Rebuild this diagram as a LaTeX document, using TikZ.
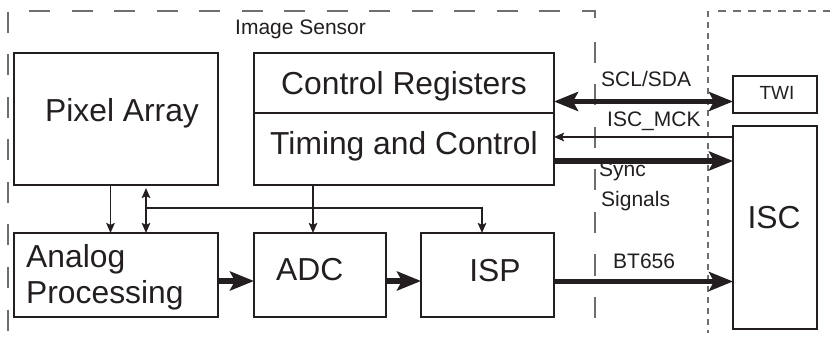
\documentclass[tikz,border=0pt]{standalone}
\usepackage{fontspec}
\setmainfont{Liberation Sans}
\usetikzlibrary{arrows.meta}
\definecolor{ink}{HTML}{231F20}
\definecolor{dashgray}{HTML}{6D6E71}
\begin{document}
\begin{tikzpicture}[x=1pt,y=-1pt,
  box/.style={draw=ink, line width=2.2pt, anchor=north west, inner sep=0pt, outer sep=0pt},
  bigtxt/.style={font=\fontsize{31.8}{36}\selectfont, text=ink, inner sep=0pt, anchor=base west},
  lbl/.style={font=\fontsize{21}{25}\selectfont, text=ink, inner sep=0pt, anchor=base west},
  fatarrow/.style={draw=ink, line width=5.5pt, -{Stealth[length=24pt,width=19pt,inset=5pt]}},
  fatboth/.style={draw=ink, line width=5.5pt, {Stealth[length=24pt,width=19pt,inset=5pt]}-{Stealth[length=24pt,width=19pt,inset=5pt]}},
  thinarrow/.style={draw=ink, line width=1.9pt, -{Stealth[length=10pt,width=8.5pt,inset=2pt]}},
  thinboth/.style={draw=ink, line width=1.9pt, {Stealth[length=10pt,width=8.5pt,inset=2pt]}-{Stealth[length=10pt,width=8.5pt,inset=2pt]}},
  sensordash/.style={draw=dashgray, line width=1.4pt, dash pattern=on 21pt off 21.5pt},
  iscdashh/.style={draw=dashgray, line width=1.4pt, dash pattern=on 8pt off 7pt},
  iscdashv/.style={draw=dashgray, line width=1.4pt, dash pattern=on 6pt off 5pt}]
\useasboundingbox (0,0) rectangle (830,339);

% frames
\draw[sensordash] (8,12) -- (8,331);
\draw[sensordash] (29,11) -- (595,11) -- (595,21);
\draw[sensordash] (595,42) -- (595,318);
\draw[iscdashh] (718,11) -- (830,11);
\draw[iscdashv] (708,11) -- (708,333);

% boxes
\node[box, minimum width=204pt, minimum height=132pt] (pa) at (14,53) {};
\node[box, minimum width=300pt, minimum height=60pt] (cr) at (254,53) {};
\node[box, minimum width=300pt, minimum height=72pt] (tc) at (254,113) {};
\node[box, minimum width=204pt, minimum height=84pt] (ap) at (14,233) {};
\node[box, minimum width=132pt, minimum height=84pt] (adc) at (254,233) {};
\node[box, minimum width=133pt, minimum height=84pt] (isp) at (421,233) {};
\node[box, minimum width=84pt, minimum height=37pt] (twi) at (733,76) {};
\node[box, minimum width=84pt, minimum height=203pt] (isc) at (733,126) {};

% texts
\node[lbl] (tsensor) at (235,34.3) {Image Sensor};
\node[bigtxt] (tpa) at (45,122) {Pixel Array};
\node[bigtxt] (tcr) at (281,95) {Control Registers};
\node[bigtxt] (ttc) at (270,155) {Timing and Control};
\node[bigtxt] (tap1) at (26,267) {Analog};
\node[bigtxt] (tap2) at (26,303) {Processing};
\node[bigtxt] (tadc) at (276,280) {ADC};
\node[bigtxt, anchor=base] (tisp) at (495,281) {ISP};
\node[bigtxt, anchor=base] (tisc) at (774,229) {ISC};
\node[lbl, anchor=base, font=\fontsize{19}{23}\selectfont] (ttwi) at (777,100) {TWI};
\node[lbl] (tscl) at (601,87) {SCL/SDA};
\node[lbl] (tmck) at (607,127) {ISC\_MCK};
\node[lbl] (tsync) at (599,177) {Sync};
\node[lbl] (tsig) at (601,207) {Signals};
\node[lbl] (tbt) at (613,269) {BT656};

% connectors
\draw[fatboth] (cr.east |- 0,101.5) -- (twi.west |- 0,101.5);
\draw[thinarrow] (isc.west |- 0,137) -- (tc.east |- 0,137);
\draw[fatarrow] (tc.east |- 0,161) -- (isc.west |- 0,161);
\draw[fatarrow] (isp.east |- 0,281.5) -- (isc.west |- 0,281.5);
\draw[fatarrow] (ap.east |- 0,281) -- (adc.west |- 0,281);
\draw[fatarrow] (adc.east |- 0,281) -- (isp.west |- 0,281);
\draw[thinarrow] (pa.south -| 110.5,0) -- (ap.north -| 110.5,0);
\draw[thinboth, shorten <=3pt] (pa.south -| 146,0) -- (ap.north -| 146,0);
\coordinate (bus) at (146,208);
\draw[thinarrow] (bus) -| (isp.north -| 482,0);
\draw[thinarrow] (tc.south -| 313,0) -- (adc.north -| 313,0);
\end{tikzpicture}
\end{document}
